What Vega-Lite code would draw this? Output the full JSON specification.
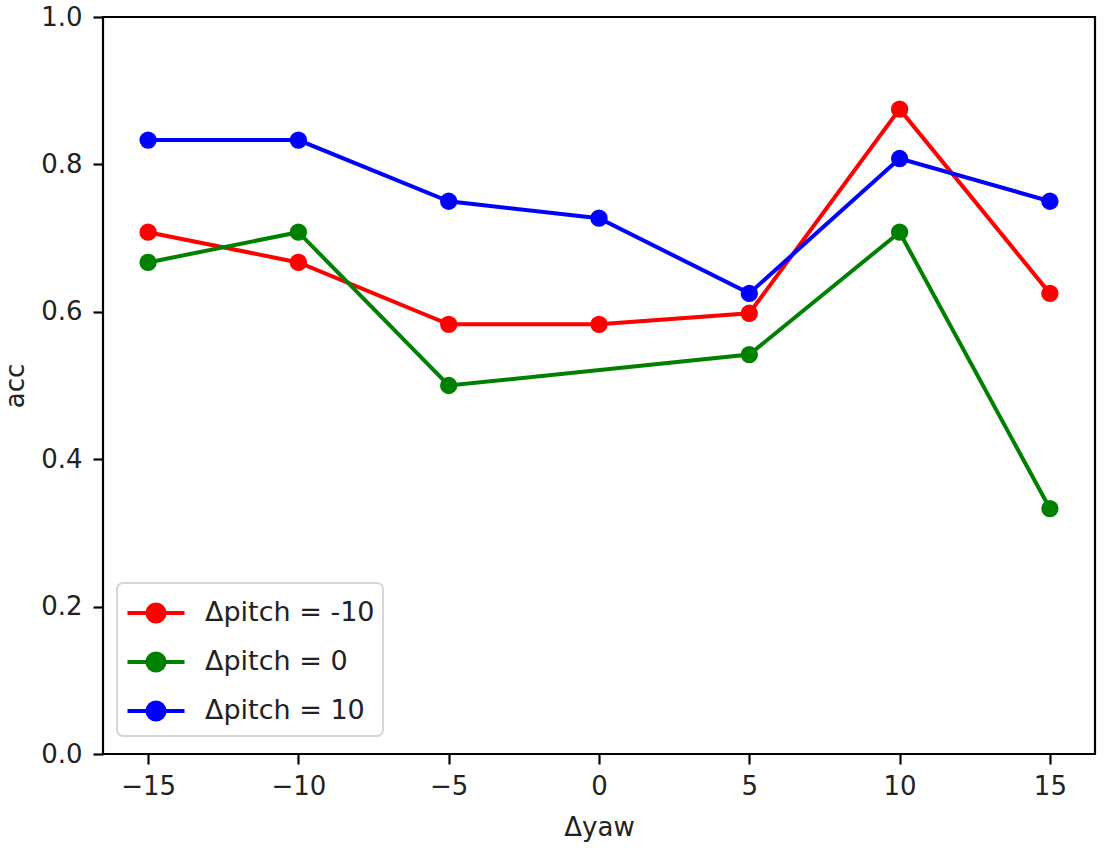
{
  "$schema": "https://vega.github.io/schema/vega-lite/v6.json",
  "autosize": "none",
  "width": 992,
  "height": 737,
  "padding": {"left": 103, "top": 17, "right": 15, "bottom": 106},
  "background": "white",
  "config": {
    "font": "DejaVu Sans",
    "view": {"stroke": "black", "strokeWidth": 2.2},
    "axis": {
      "domain": false,
      "grid": false,
      "ticks": true,
      "tickColor": "black",
      "tickWidth": 2.2,
      "tickSize": 10,
      "labelFont": "DejaVu Sans",
      "labelFontSize": 26,
      "labelColor": "#222222",
      "titleFont": "DejaVu Sans",
      "titleFontSize": 26,
      "titleFontWeight": "normal",
      "titleColor": "#222222"
    }
  },
  "data": {
    "values": [
      {"yaw": -15, "series": "Δpitch = -10", "acc": 0.708},
      {"yaw": -10, "series": "Δpitch = -10", "acc": 0.667},
      {"yaw": -5, "series": "Δpitch = -10", "acc": 0.583},
      {"yaw": 0, "series": "Δpitch = -10", "acc": 0.583},
      {"yaw": 5, "series": "Δpitch = -10", "acc": 0.598},
      {"yaw": 10, "series": "Δpitch = -10", "acc": 0.875},
      {"yaw": 15, "series": "Δpitch = -10", "acc": 0.625},
      {"yaw": -15, "series": "Δpitch = 0", "acc": 0.667},
      {"yaw": -10, "series": "Δpitch = 0", "acc": 0.708},
      {"yaw": -5, "series": "Δpitch = 0", "acc": 0.5},
      {"yaw": 5, "series": "Δpitch = 0", "acc": 0.542},
      {"yaw": 10, "series": "Δpitch = 0", "acc": 0.708},
      {"yaw": 15, "series": "Δpitch = 0", "acc": 0.333},
      {"yaw": -15, "series": "Δpitch = 10", "acc": 0.833},
      {"yaw": -10, "series": "Δpitch = 10", "acc": 0.833},
      {"yaw": -5, "series": "Δpitch = 10", "acc": 0.75},
      {"yaw": 0, "series": "Δpitch = 10", "acc": 0.727},
      {"yaw": 5, "series": "Δpitch = 10", "acc": 0.625},
      {"yaw": 10, "series": "Δpitch = 10", "acc": 0.808},
      {"yaw": 15, "series": "Δpitch = 10", "acc": 0.75}
    ]
  },
  "encoding": {
    "x": {
      "field": "yaw",
      "type": "quantitative",
      "scale": {"domain": [-16.5, 16.5], "nice": false, "zero": false},
      "axis": {
        "title": "Δyaw",
        "values": [-15, -10, -5, 0, 5, 10, 15],
        "labelExpr": "replace(datum.label, '-', '−')",
        "labelPadding": 9,
        "titlePadding": 15
      }
    },
    "y": {
      "field": "acc",
      "type": "quantitative",
      "scale": {"domain": [0, 1], "nice": false},
      "axis": {
        "title": "acc",
        "values": [0, 0.2, 0.4, 0.6, 0.8, 1.0],
        "format": ".1f",
        "labelPadding": 11,
        "titlePadding": 12
      }
    },
    "color": {
      "field": "series",
      "type": "nominal",
      "scale": {
        "domain": ["Δpitch = -10", "Δpitch = 0", "Δpitch = 10"],
        "range": ["#ff0000", "#008000", "#0000ff"]
      },
      "legend": {
        "title": null,
        "orient": "none",
        "legendX": 14,
        "legendY": 566,
        "padding": 8,
        "fillColor": "white",
        "strokeColor": "#d6d6d6",
        "cornerRadius": 6,
        "labelFont": "DejaVu Sans",
        "labelFontSize": 27,
        "labelLimit": 400,
        "labelColor": "#222222",
        "symbolType": "M-1.425,0L1.425,0M0.425,0A0.425,0.425 0 1,1 -0.425,0A0.425,0.425 0 1,1 0.425,0Z",
        "symbolSize": 1600,
        "symbolStrokeWidth": 4,
        "symbolOffset": 9,
        "labelOffset": 27,
        "rowPadding": 10,
        "encode": {
          "legend": {
            "update": {"strokeWidth": {"value": 2}}
          },
          "symbols": {
            "update": {
              "fill": {"signal": "scale('color', datum.value)"},
              "stroke": {"signal": "scale('color', datum.value)"},
              "opacity": {"value": 1}
            }
          }
        }
      }
    }
  },
  "layer": [
    {"mark": {"type": "line", "strokeWidth": 4}},
    {"mark": {"type": "point", "filled": true, "size": 300, "opacity": 1}}
  ]
}
